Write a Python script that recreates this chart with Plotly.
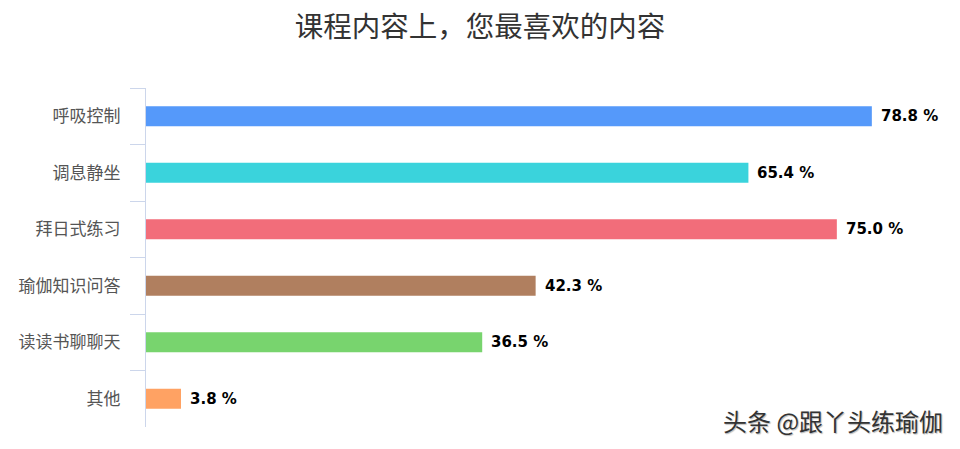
import plotly.graph_objects as go

categories = ["呼吸控制", "调息静坐", "拜日式练习", "瑜伽知识问答", "读读书聊聊天", "其他"]
values = [78.8, 65.4, 75.0, 42.3, 36.5, 3.8]
colors = ["#5599fa", "#3ad3dc", "#f26d7a", "#b07f5f", "#78d46e", "#ffa263"]
labels = [f"{v:.1f} %" for v in values]
title_text = "课程内容上，您最喜欢的内容"
watermark = "头条 @跟丫头练瑜伽"

fig = go.Figure(go.Bar(
    x=values, y=categories, orientation="h",
    marker=dict(color=colors, line=dict(width=0)),
    width=0.355, cliponaxis=False, hoverinfo="skip",
))

annotations = [
    dict(x=v, y=c, text=t, xref="x", yref="y", xanchor="left", yanchor="middle",
         xshift=7, showarrow=False,
         font=dict(family="DejaVu Sans", size=15, color="#000000", weight="bold"))
    for v, c, t in zip(values, categories, labels)
]
annotations.append(dict(text=watermark, xref="paper", yref="paper", x=1.006, y=0.018,
                        xanchor="right", yanchor="middle", showarrow=False,
                        font=dict(family="Noto Sans CJK SC", size=24, color="#333333",
                                  shadow="1px 1px 1px #bbbbbb")))

fig.update_layout(
    width=960, height=449,
    margin=dict(l=146, r=20, t=88, b=22, autoexpand=False),
    paper_bgcolor="white", plot_bgcolor="white",
    showlegend=False,
    title=dict(text=title_text, x=0.5, xanchor="center", y=0.94, yanchor="middle",
               font=dict(family="Noto Sans CJK SC", size=28.5, color="#333333")),
    xaxis=dict(range=[0, 86.2], visible=False, showgrid=False, zeroline=False, automargin=False),
    yaxis=dict(type="category", autorange="reversed", showline=True, linecolor="#ccd6eb",
               linewidth=1, ticks="outside", ticklen=15, tickcolor="#ccd6eb", tickson="boundaries",
               showgrid=False, ticklabelstandoff=21, automargin=False,
               tickfont=dict(family="Noto Sans CJK SC", size=17, color="#555555")),
    annotations=annotations,
)

fig.write_html("out.html", config={"displayModeBar": False},
               post_script="document.body.style.margin='0';document.body.style.padding='0';")
